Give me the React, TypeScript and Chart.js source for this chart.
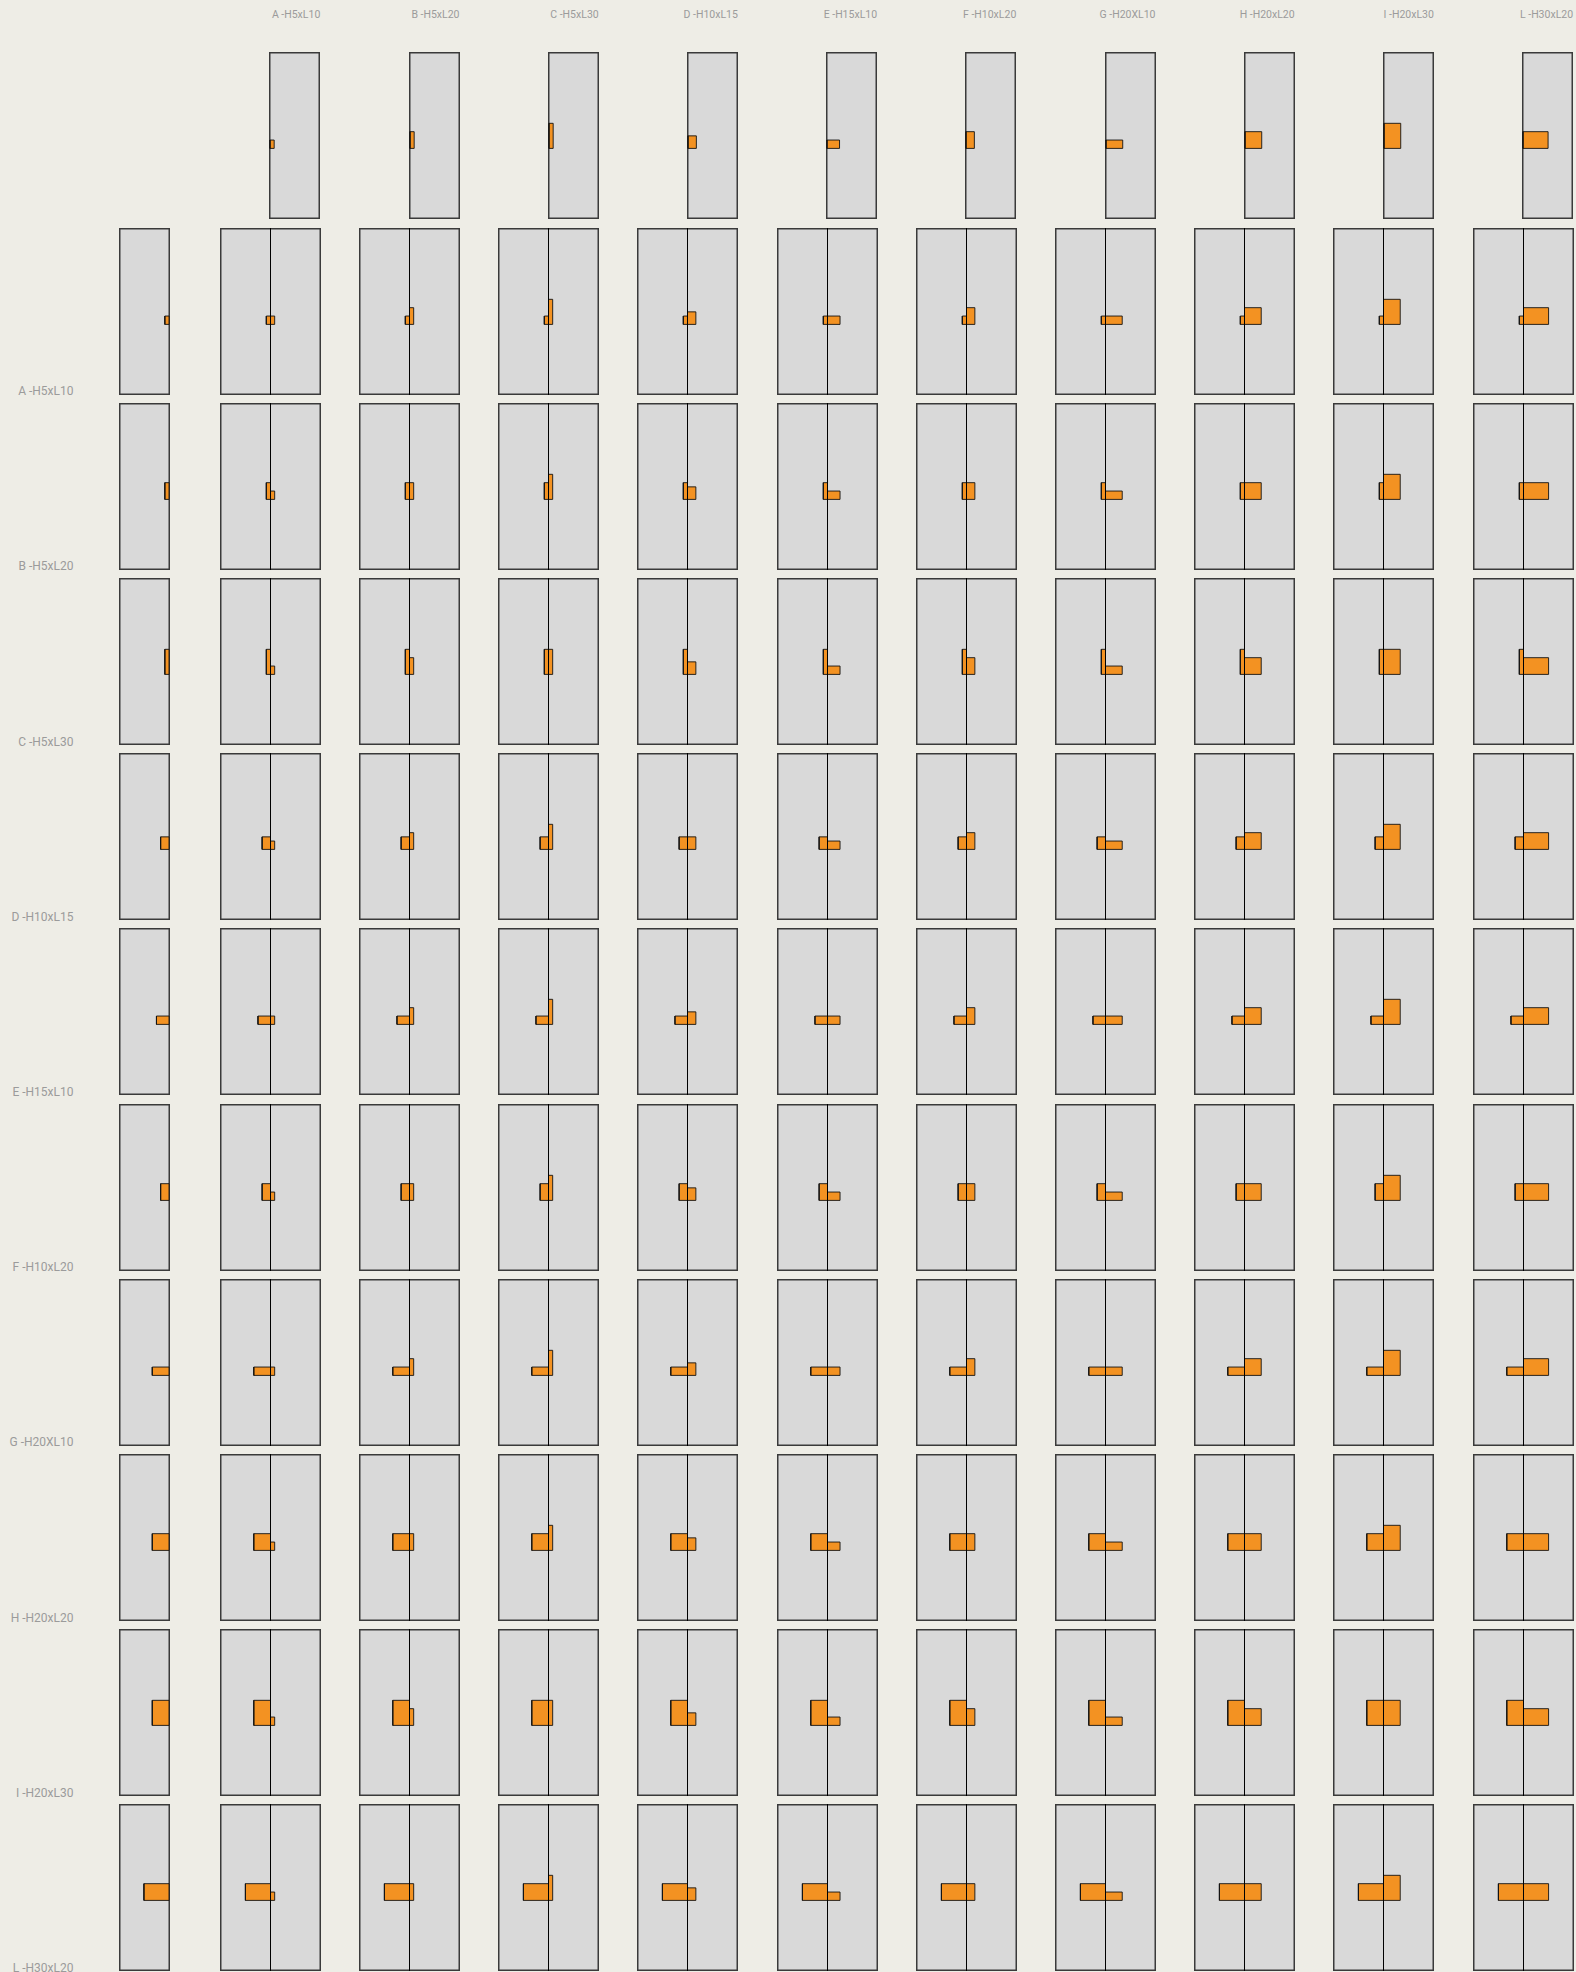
import React, { useEffect, useRef } from "react";
import { Chart, registerables } from "chart.js";

Chart.register(...registerables);

// ---- data ----
const itemLabels = [
  "A -H5xL10",
  "B -H5xL20",
  "C -H5xL30",
  "D -H10xL15",
  "E -H15xL10",
  "F -H10xL20",
  "G -H20XL10",
  "H -H20xL20",
  "I -H20xL30",
  "L -H30xL20",
];
const hValues = [5, 5, 5, 10, 15, 10, 20, 20, 20, 30];
const lValues = [10, 20, 30, 15, 10, 20, 10, 20, 30, 20];

// ---- layout ----
const PAGE_W = 1576;
const PAGE_H = 1972;
const K = 0.836; // px per unit
const CELL_H = 167;
const FULL_W = 101;
const HALF_W = 51;
const COL0_CX = 270.3;
const COL_PITCH = 139.2;
const HEADER_TOP = 52.3;
const ROW0_TOP = 227.5;
const ROW_PITCH = 175.2;
const BASE_FROM_TOP = 96.4; // px from cell top to rect bottom
const LEFT_COL_X = 119;

const BG = "#eeede6";
const CELL_BG = "#d9d9d9";
const ORANGE = "#f39222";
const TEXT = "#9b9b9b";

type Kind = "full" | "header" | "left";

function rectPoints(x0: number, x1: number, h: number) {
  return [
    { x: x0, y: 0 },
    { x: x1, y: 0 },
    { x: x1, y: h },
    { x: x0, y: h },
    { x: x0, y: 0 },
  ];
}

function Cell(props: { kind: Kind; left: number; top: number; rowIdx: number; colIdx: number }) {
  const { kind, left, top, rowIdx, colIdx } = props;
  const ref = useRef<HTMLCanvasElement | null>(null);
  const w = kind === "full" ? FULL_W : HALF_W;
  useEffect(() => {
    if (!ref.current) return;
    let axisPx = w / 2;
    if (kind === "header") axisPx = 1;
    if (kind === "left") axisPx = w - 1;
    const xmin = -axisPx / K;
    const xmax = (w - axisPx) / K;
    const ymax = BASE_FROM_TOP / K;
    const ymin = ymax - CELL_H / K;
    const rectStyle = {
      showLine: true,
      fill: "shape" as any,
      backgroundColor: ORANGE,
      borderColor: "rgba(20,20,20,0.9)",
      borderWidth: 1,
      pointRadius: 0,
      tension: 0,
    };
    const datasets: any[] = [];
    if (kind === "full") {
      datasets.push({
        data: [
          { x: 0, y: ymin },
          { x: 0, y: ymax },
        ],
        borderColor: "#000",
        borderWidth: 1,
        pointRadius: 0,
        fill: false,
      });
    }
    if (kind === "full" || kind === "left") {
      datasets.push({ ...rectStyle, data: rectPoints(-hValues[rowIdx], 0, lValues[rowIdx]) });
    }
    if (kind === "full" || kind === "header") {
      datasets.push({ ...rectStyle, data: rectPoints(0, hValues[colIdx], lValues[colIdx]) });
    }
    const chart = new Chart(ref.current, {
      type: "line",
      data: { datasets },
      options: {
        animation: false,
        responsive: false,
        maintainAspectRatio: false,
        events: [],
        layout: { padding: 0 },
        plugins: { legend: { display: false }, tooltip: { enabled: false } },
        scales: {
          x: { type: "linear", display: false, min: xmin, max: xmax },
          y: { type: "linear", display: false, min: ymin, max: ymax },
        },
      },
    });
    return () => chart.destroy();
  }, [kind, rowIdx, colIdx, w]);
  return (
    <div
      style={{
        position: "absolute",
        left,
        top,
        width: w,
        height: CELL_H,
        background: CELL_BG,
        boxShadow: "inset 0 0 0 1.5px #3a3a3a",
      }}
    >
      <canvas
        ref={ref}
        width={w}
        height={CELL_H}
        style={{ position: "absolute", left: 0, top: 0, width: w, height: CELL_H }}
      />
    </div>
  );
}

export default function App() {
  const n = itemLabels.length;
  const cells: React.ReactNode[] = [];
  const texts: React.ReactNode[] = [];
  for (let j = 0; j < n; j++) {
    const cx = COL0_CX + COL_PITCH * j;
    cells.push(
      <Cell key={"h" + j} kind="header" left={cx - 1} top={HEADER_TOP} rowIdx={0} colIdx={j} />
    );
    texts.push(
      <div
        key={"ht" + j}
        style={{
          position: "absolute",
          left: cx + HALF_W - 1 - 200,
          width: 200,
          top: 19 - 10.5 * 0.842,
          fontSize: 10.5,
          lineHeight: "10.5px",
          textAlign: "right",
          color: TEXT,
          fontFamily: "Roboto, sans-serif",
          whiteSpace: "nowrap",
        }}
      >
        {itemLabels[j]}
      </div>
    );
  }
  for (let i = 0; i < n; i++) {
    const top = ROW0_TOP + ROW_PITCH * i;
    cells.push(<Cell key={"l" + i} kind="left" left={LEFT_COL_X} top={top} rowIdx={i} colIdx={0} />);
    for (let j = 0; j < n; j++) {
      const cx = COL0_CX + COL_PITCH * j;
      cells.push(
        <Cell key={"c" + i + "_" + j} kind="full" left={cx - FULL_W / 2} top={top} rowIdx={i} colIdx={j} />
      );
    }
    const baseline = top + CELL_H + 0.8;
    texts.push(
      <div
        key={"rt" + i}
        style={{
          position: "absolute",
          left: 73.5 - 200,
          width: 200,
          top: baseline - 12 * 0.842,
          fontSize: 12,
          lineHeight: "12px",
          textAlign: "right",
          color: TEXT,
          fontFamily: "Roboto, sans-serif",
          whiteSpace: "nowrap",
        }}
      >
        {itemLabels[i]}
      </div>
    );
  }
  return (
    <div
      style={{
        position: "absolute",
        left: 0,
        top: 0,
        width: PAGE_W,
        height: PAGE_H,
        background: BG,
        overflow: "hidden",
      }}
    >
      {cells}
      {texts}
    </div>
  );
}
